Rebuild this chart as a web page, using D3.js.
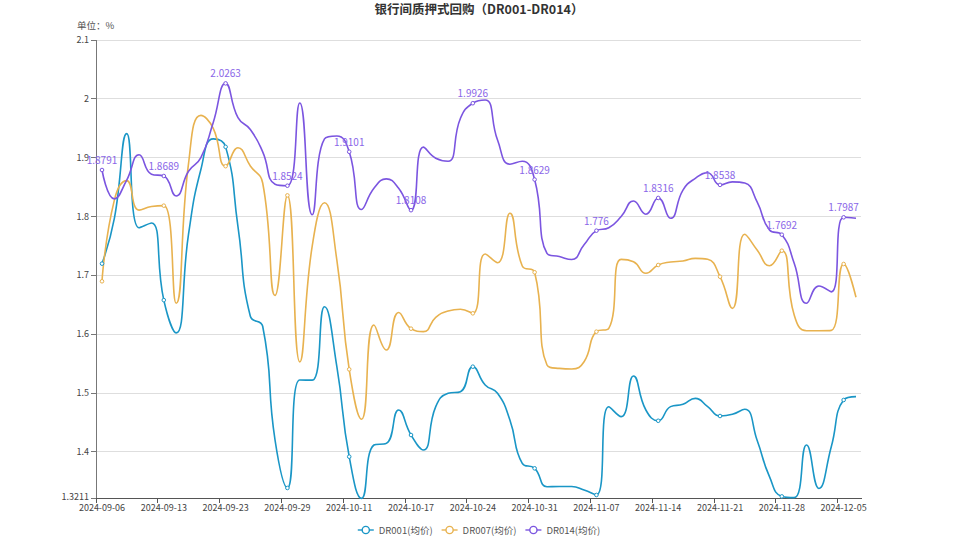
<!DOCTYPE html>
<html><head><meta charset="utf-8">
<script src="https://cdn.jsdelivr.net/npm/d3@7"></script>
<style>
body{margin:0;background:#fff}
svg{display:block}
text{font-family:"Microsoft YaHei","Noto Sans CJK SC","Noto Sans",sans-serif}
</style>
</head><body>
<svg id="c" width="958" height="539"></svg>
<script>
const dates = ["2024-09-06","2024-09-09","2024-09-10","2024-09-11","2024-09-12","2024-09-13","2024-09-14","2024-09-18","2024-09-19","2024-09-20",
"2024-09-23","2024-09-24","2024-09-25","2024-09-26","2024-09-27","2024-09-29","2024-09-30","2024-10-08","2024-10-09","2024-10-10",
"2024-10-11","2024-10-12","2024-10-14","2024-10-15","2024-10-16","2024-10-17","2024-10-18","2024-10-21","2024-10-22","2024-10-23",
"2024-10-24","2024-10-25","2024-10-28","2024-10-29","2024-10-30","2024-10-31","2024-11-01","2024-11-04","2024-11-05","2024-11-06",
"2024-11-07","2024-11-08","2024-11-11","2024-11-12","2024-11-13","2024-11-14","2024-11-15","2024-11-18","2024-11-19","2024-11-20",
"2024-11-21","2024-11-22","2024-11-25","2024-11-26","2024-11-27","2024-11-28","2024-11-29","2024-12-02","2024-12-03","2024-12-04",
"2024-12-05","2024-12-06"];
const dr001 = [1.720,1.797,1.941,1.781,1.789,1.658,1.6023,1.77,1.88,1.932,
1.9184,1.783,1.6306,1.6136,1.42,1.3388,1.5222,1.522,1.6468,1.5449,
1.392,1.3211,1.4118,1.4146,1.4713,1.4288,1.4033,1.477,1.4997,1.5025,
1.5449,1.5138,1.4997,1.4543,1.3807,1.3722,1.341,1.3414,1.3414,1.3353,
1.3269,1.4769,1.46,1.529,1.4713,1.453,1.477,1.481,1.4911,1.477,
1.4611,1.464,1.4725,1.420,1.358,1.3245,1.3225,1.4118,1.338,1.409,
1.4883,1.494];
const dr007 = [1.690,1.828,1.861,1.811,1.817,1.8185,1.6526,1.89,1.972,1.950,
1.8856,1.917,1.886,1.857,1.666,1.836,1.553,1.749,1.8235,1.726,
1.5404,1.4555,1.6157,1.5732,1.637,1.6095,1.6044,1.6288,1.6395,1.6424,
1.6356,1.7364,1.7216,1.8055,1.716,1.7053,1.5477,1.542,1.541,1.5534,
1.6044,1.610,1.7273,1.7233,1.7036,1.7177,1.7228,1.7245,1.729,1.7273,
1.6978,1.644,1.770,1.7432,1.7165,1.742,1.6327,1.606,1.606,1.6066,
1.7194,1.6628];
const dr014 = [1.8791,1.830,1.862,1.905,1.872,1.8689,1.835,1.877,1.90,1.96,
2.0263,1.968,1.948,1.91,1.855,1.8524,1.993,1.803,1.932,1.937,
1.9101,1.812,1.848,1.864,1.848,1.8108,1.918,1.899,1.894,1.967,
1.9926,1.998,1.930,1.889,1.894,1.8629,1.7375,1.732,1.727,1.752,
1.776,1.781,1.800,1.8264,1.804,1.8316,1.797,1.845,1.865,1.8745,
1.8538,1.859,1.857,1.825,1.777,1.7692,1.7206,1.6526,1.682,1.672,
1.7987,1.797];
const yTicks = [1.3211,1.4,1.5,1.6,1.7,1.8,1.9,2,2.1];
const seriesNames = ["DR001(均价)","DR007(均价)","DR014(均价)"];
const colors = ["#1a96c6","#e8b24f","#7b55e0"];
const title = "银行间质押式回购（DR001-DR014）";
const unitLabel = "单位：%";
const labelInterval = 5;

const svg = d3.select("#c");
const axisLeft = 96, axisRight = 862, pad = 6;
const x = d3.scalePoint().domain(dates).range([axisLeft + pad, axisRight - pad]);
const y = d3.scaleLinear().domain([1.3211, 2.1]).range([498.4, 40]);

// ECharts-like smooth curve
function echartsSmooth(context){
  let pts = [];
  return {
    areaStart(){}, areaEnd(){},
    lineStart(){ pts = []; },
    point(px,py){ pts.push([+px,+py]); },
    lineEnd(){
      const s = 0.5, n = pts.length;
      let cpx0, cpy0, prevX, prevY;
      for(let i=0;i<n;i++){
        const [px,py] = pts[i];
        if(i===0){ context.moveTo(px,py); cpx0=px; cpy0=py; }
        else{
          let cpx1, cpy1, ncx=px, ncy=py;
          if(i===n-1){ cpx1=px; cpy1=py; }
          else{
            const [nx,ny] = pts[i+1];
            let vx = nx-prevX, vy = ny-prevY;
            const lp = Math.hypot(px-prevX, py-prevY), ln = Math.hypot(nx-px, ny-py);
            const r = ln/(ln+lp);
            ncx = px + vx*s*r; ncy = py + vy*s*r;
            ncx = Math.min(ncx, Math.max(nx,px)); ncy = Math.min(ncy, Math.max(ny,py));
            ncx = Math.max(ncx, Math.min(nx,px)); ncy = Math.max(ncy, Math.min(ny,py));
            vx = ncx-px; vy = ncy-py;
            cpx1 = px - vx*lp/ln; cpy1 = py - vy*lp/ln;
            cpx1 = Math.min(cpx1, Math.max(prevX,px)); cpy1 = Math.min(cpy1, Math.max(prevY,py));
            cpx1 = Math.max(cpx1, Math.min(prevX,px)); cpy1 = Math.max(cpy1, Math.min(prevY,py));
            vx = px-cpx1; vy = py-cpy1;
            ncx = px + vx*ln/lp; ncy = py + vy*ln/lp;
          }
          context.bezierCurveTo(cpx0,cpy0,cpx1,cpy1,px,py);
          cpx0=ncx; cpy0=ncy;
        }
        prevX=px; prevY=py;
      }
    }
  };
}

// title
svg.append("text").attr("x",479).attr("y",14).attr("text-anchor","middle")
  .attr("font-size",12.5).attr("font-weight","bold").attr("fill","#333").text(title);
svg.append("text").attr("x",77).attr("y",28.5).attr("font-size",9.5).attr("fill","#555").text(unitLabel);

// gridlines
svg.append("g").selectAll("line").data(yTicks.filter(t=>t!==1.3211)).join("line")
  .attr("x1",axisLeft).attr("x2",axisRight-1).attr("y1",d=>y(d)).attr("y2",d=>y(d))
  .attr("stroke","#dedede").attr("stroke-width",1).attr("shape-rendering","crispEdges");

// y axis
const ya = svg.append("g");
ya.append("line").attr("x1",axisLeft).attr("x2",axisLeft).attr("y1",y(2.1)).attr("y2",y(1.3211))
  .attr("stroke","#777").attr("shape-rendering","crispEdges");
ya.selectAll(".t").data(yTicks).join("line").attr("x1",axisLeft-5).attr("x2",axisLeft)
  .attr("y1",d=>y(d)).attr("y2",d=>y(d)).attr("stroke","#777").attr("shape-rendering","crispEdges");
ya.selectAll("text").data(yTicks).join("text").attr("x",axisLeft-7).attr("y",d=>y(d)+(d===1.3211?1.5:3))
  .attr("text-anchor","end").attr("font-size",9).attr("fill","#444").text(d=>String(d));

// x axis
const xa = svg.append("g");
xa.append("line").attr("x1",axisLeft).attr("x2",axisRight).attr("y1",y(1.3211)).attr("y2",y(1.3211))
  .attr("stroke","#555").attr("shape-rendering","crispEdges");
const tickDates = dates.filter((d,i)=>i%labelInterval===0);
xa.selectAll(".t").data(tickDates).join("line").attr("x1",d=>x(d)-pad).attr("x2",d=>x(d)-pad)
  .attr("y1",y(1.3211)).attr("y2",y(1.3211)+5).attr("stroke","#555").attr("shape-rendering","crispEdges");
xa.selectAll("text").data(tickDates).join("text").attr("x",d=>x(d)).attr("y",y(1.3211)+13)
  .attr("text-anchor","middle").attr("font-size",9).attr("fill","#444").text(d=>d);

// lines
const allSeries = [dr001, dr007, dr014];
const line = d3.line().x((d,i)=>x(dates[i])).y(d=>y(d)).curve(echartsSmooth);
allSeries.forEach((s,k)=>{
  svg.append("path").datum(s).attr("d",line).attr("fill","none")
    .attr("stroke",colors[k]).attr("stroke-width",1.6);
});
allSeries.forEach((s,k)=>{
  const pts = s.map((v,i)=>({v,i})).filter(p=>p.i%labelInterval===0);
  svg.append("g").selectAll("circle").data(pts).join("circle")
    .attr("cx",p=>x(dates[p.i])).attr("cy",p=>y(p.v)).attr("r",1.8)
    .attr("fill","#fff").attr("stroke",colors[k]).attr("stroke-width",1);
});
// labels for DR014
const lp = dr014.map((v,i)=>({v,i})).filter(p=>p.i%labelInterval===0);
svg.append("g").selectAll("text").data(lp).join("text")
  .attr("x",p=>x(dates[p.i])).attr("y",p=>y(p.v)-6).attr("text-anchor","middle")
  .attr("font-size",10).attr("fill","#8a66e8").text(p=>String(p.v));

// legend
const lg = svg.append("g");
let cx = 0;
seriesNames.forEach((name,k)=>{
  const g = lg.append("g");
  g.append("line").attr("x1",0).attr("x2",16).attr("y1",0).attr("y2",0).attr("stroke",colors[k]).attr("stroke-width",1.4);
  g.append("circle").attr("cx",8).attr("cy",0).attr("r",3.6).attr("fill","#fff").attr("stroke",colors[k]).attr("stroke-width",1.4);
  const t = g.append("text").attr("x",21).attr("y",3.5).attr("font-size",9.5).attr("fill","#555").text(name);
  const w = 21 + t.node().getComputedTextLength();
  g.attr("transform",`translate(${cx},530)`);
  cx += w + 9;
});
const totalW = cx - 9;
lg.attr("transform",`translate(${479 - totalW/2},0)`);
</script>
</body></html>
